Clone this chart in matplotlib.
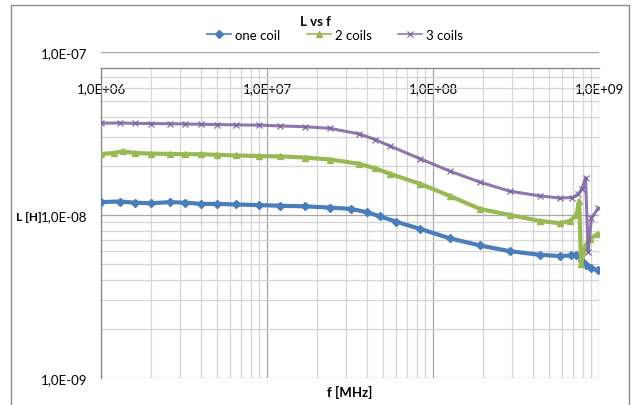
"""L vs f for one, two and three coils (log-log, Excel style)."""
import matplotlib
matplotlib.use("Agg")
import matplotlib.pyplot as plt
from matplotlib.patches import Rectangle
from matplotlib.ticker import FuncFormatter, NullLocator

plt.rcParams["font.family"] = ["Lato", "DejaVu Sans"]

# one coil
f_one = [1.0e6, 1.3e6, 1.6e6, 2.0e6, 2.6e6, 3.2e6, 4.0e6, 5.0e6, 6.5e6, 9.0e6,
         1.2e7, 1.7e7, 2.4e7, 3.2e7, 4.0e7, 4.8e7, 6.0e7, 8.4e7, 1.26e8, 1.92e8,
         2.9e8, 4.4e8, 5.8e8, 6.8e8, 7.3e8, 7.7e8, 7.95e8, 8.3e8, 9.0e8, 9.9e8]
L_one = [1.20e-8, 1.21e-8, 1.19e-8, 1.18e-8, 1.20e-8, 1.19e-8, 1.17e-8, 1.17e-8, 1.16e-8, 1.15e-8,
         1.14e-8, 1.13e-8, 1.11e-8, 1.09e-8, 1.04e-8, 9.8e-9, 9.1e-9, 8.2e-9, 7.2e-9, 6.5e-9,
         6.0e-9, 5.7e-9, 5.6e-9, 5.65e-9, 5.7e-9, 5.6e-9, 5.2e-9, 4.9e-9, 4.7e-9, 4.6e-9]

# 2 coils
f_two = [1.0e6, 1.2e6, 1.35e6, 1.6e6, 2.0e6, 2.6e6, 3.2e6, 4.0e6, 5.0e6, 6.5e6, 9.0e6,
         1.2e7, 1.7e7, 2.4e7, 3.6e7, 4.5e7, 5.5e7, 8.4e7, 1.26e8, 1.92e8, 2.9e8,
         4.4e8, 5.8e8, 6.7e8, 7.3e8, 7.6e8, 7.8e8, 8.3e8, 8.8e8, 9.9e8]
L_two = [2.37e-8, 2.40e-8, 2.46e-8, 2.40e-8, 2.38e-8, 2.37e-8, 2.36e-8, 2.36e-8, 2.34e-8, 2.32e-8, 2.30e-8,
         2.29e-8, 2.25e-8, 2.19e-8, 2.06e-8, 1.93e-8, 1.79e-8, 1.55e-8, 1.31e-8, 1.09e-8, 1.0e-8,
         9.2e-9, 8.9e-9, 9.2e-9, 1.0e-8, 1.22e-8, 5.0e-9, 6.5e-9, 7.1e-9, 7.7e-9]

# 3 coils
f_three = [1.0e6, 1.3e6, 1.6e6, 2.0e6, 2.6e6, 3.2e6, 4.0e6, 5.0e6, 6.5e6, 9.0e6,
           1.2e7, 1.7e7, 2.4e7, 3.6e7, 4.5e7, 5.5e7, 8.4e7, 1.26e8, 1.92e8, 2.9e8,
           4.4e8, 5.8e8, 6.9e8, 7.5e8, 7.9e8, 8.3e8, 8.6e8, 9.0e8, 9.9e8]
L_three = [3.66e-8, 3.67e-8, 3.65e-8, 3.64e-8, 3.63e-8, 3.62e-8, 3.60e-8, 3.59e-8, 3.57e-8, 3.56e-8,
           3.52e-8, 3.48e-8, 3.40e-8, 3.14e-8, 2.90e-8, 2.65e-8, 2.21e-8, 1.86e-8, 1.59e-8, 1.40e-8,
           1.31e-8, 1.27e-8, 1.28e-8, 1.34e-8, 1.45e-8, 1.69e-8, 5.9e-9, 9.6e-9, 1.1e-8]

x_decades = [1e6, 1e7, 1e8, 1e9]
y_major = [1e-9, 1e-8, 1e-7]
y_minor = [m * 1e-9 for m in range(2, 10)] + [m * 1e-8 for m in range(2, 9)]
x_axis_cross = 8e-8

BLUE = "#4A7EBB"
GREEN = "#98B954"
PURPLE = "#7D60A0"
GRID_MAJOR = "#A6A6A6"
GRID_MINOR = "#D4D4D4"


def excel_sci(v, _pos=None):
    return f"{v:.1E}".replace(".", ",")


fig = plt.figure(figsize=(6.32, 4.06), dpi=100)
ax = fig.add_axes([101 / 632, 1 - 379 / 406, 498 / 632, 326 / 406])
ax.set_xscale("log")
ax.set_yscale("log")
ax.set_xlim(1e6, 1e9)
ax.set_ylim(1e-9, 1e-7)

# vertical gridlines only below the horizontal axis crossing
x_minor = [m * d for d in x_decades[:-1] for m in range(2, 10)]
ax.vlines(x_minor, 1e-9, x_axis_cross, color=GRID_MINOR, lw=0.9, zorder=0)
ax.vlines(x_decades, 1e-9, x_axis_cross, color=GRID_MAJOR, lw=0.9, zorder=0)

ax.set_yticks(y_major)
ax.set_yticks(y_minor, minor=True)
ax.grid(axis="y", which="major", color=GRID_MAJOR, lw=0.9, zorder=0)
ax.grid(axis="y", which="minor", color=GRID_MINOR, lw=0.9, zorder=0)
ax.yaxis.set_major_formatter(FuncFormatter(excel_sci))
ax.yaxis.set_minor_formatter(FuncFormatter(lambda v, p: ""))

ax.set_xticks(x_decades)
ax.xaxis.set_minor_locator(NullLocator())
ax.xaxis.set_major_formatter(FuncFormatter(excel_sci))

for side in ["top", "right"]:
    ax.spines[side].set_visible(False)
ax.spines["left"].set_bounds(1e-9, x_axis_cross)
ax.spines["bottom"].set_position(("data", x_axis_cross))
for side in ["left", "bottom"]:
    ax.spines[side].set_color("#868686")
    ax.spines[side].set_linewidth(0.9)

ax.tick_params(axis="both", which="both", length=0, labelsize=9.5, colors="black")
ax.tick_params(axis="x", pad=10)
ax.tick_params(axis="y", pad=10)

ax.plot(f_one, L_one, color=BLUE, lw=3.0, marker="D", ms=4, label="one coil", zorder=3)
ax.plot(f_two, L_two, color=GREEN, lw=3.0, marker="^", ms=4.5, label="2 coils", zorder=3)
ax.plot(f_three, L_three, color=PURPLE, lw=2.2, marker="x", ms=4.5, mew=1.0,
        alpha=0.85, label="3 coils", zorder=3)

fig.text(315 / 632, 1 - 22 / 406, "L vs f", ha="center", va="center",
         fontsize=9.5, fontweight="bold")
leg = ax.legend(loc="center", bbox_to_anchor=(335 / 632, 1 - 36 / 406),
                bbox_transform=fig.transFigure, ncol=3, frameon=False, fontsize=9.5,
                handlelength=1.8, handletextpad=0.3, columnspacing=2.0,
                markerscale=0.9)
for line in leg.get_lines():
    line.set_linewidth(1.2)
fig.text(350 / 632, 1 - 392 / 406, "f [MHz]", ha="center", va="center",
         fontsize=9.5, fontweight="bold")
fig.text(29 / 632, 1 - 218 / 406, "L [H]", ha="center", va="center",
         fontsize=8.5, fontweight="bold")

# chart area border
fig.patches.append(Rectangle((11 / 632, -0.05), 618 / 632, 1.05 - 6 / 406,
                             transform=fig.transFigure, fill=False,
                             edgecolor="#898989", lw=1.0))

fig.savefig("out.png", dpi=100)
